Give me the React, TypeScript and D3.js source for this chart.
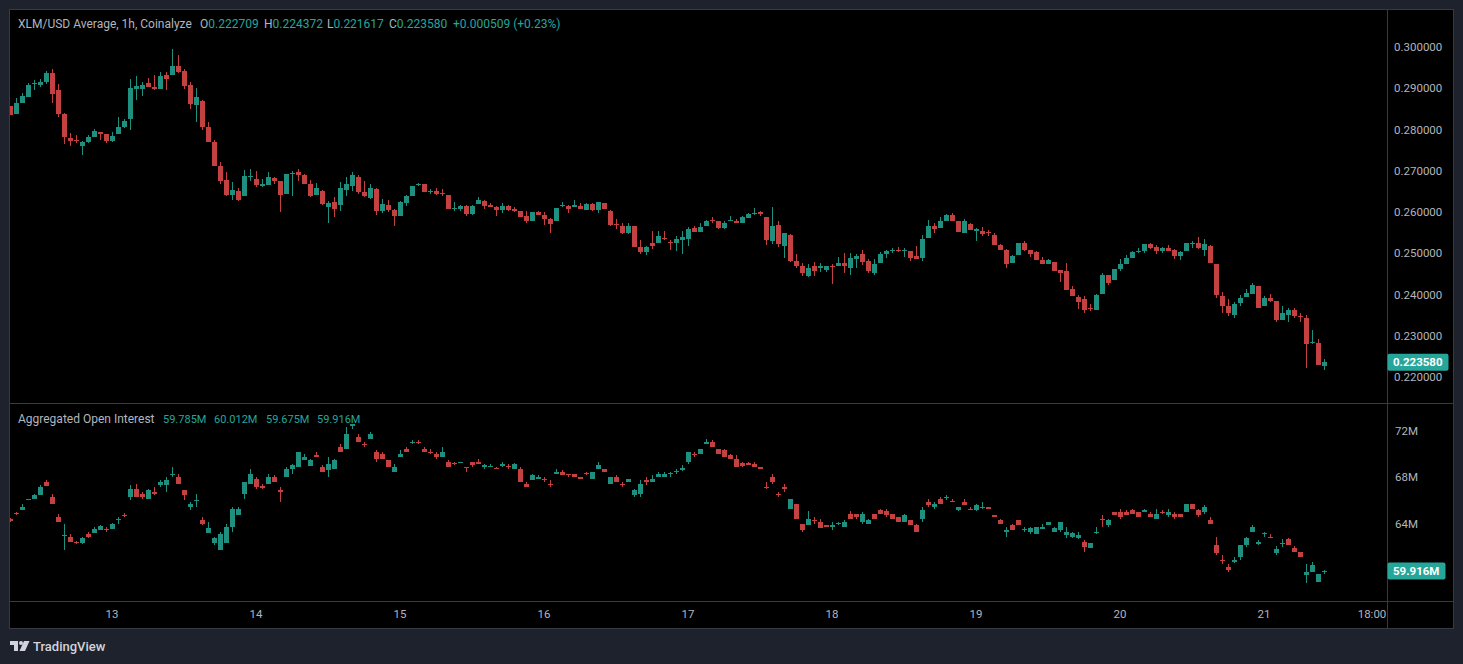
import * as d3 from "d3";
import { useEffect, useRef } from "react";

const width = 1463;
const height = 664;

// hourly candles from the 12th 07:00 up to the 21st 10:00 -> [open, high, low, close]
const firstCandle = new Date(2025, 1, 12, 7);

const xlmCandles: [number, number, number, number][] = [
  [0.2856, 0.2857, 0.2835, 0.2836], [0.2838, 0.2876, 0.2838, 0.2865], [0.2865, 0.2888, 0.2865, 0.2881],
  [0.288, 0.2912, 0.288, 0.2908], [0.291, 0.292, 0.2896, 0.2912], [0.2908, 0.2922, 0.2904, 0.2916],
  [0.2914, 0.2942, 0.2911, 0.2938], [0.2938, 0.2946, 0.2865, 0.2886], [0.2896, 0.2911, 0.2831, 0.2838],
  [0.2838, 0.2839, 0.2765, 0.2781], [0.278, 0.2791, 0.2759, 0.2773], [0.2775, 0.2787, 0.2767, 0.2771],
  [0.276, 0.2772, 0.2739, 0.277], [0.277, 0.2786, 0.2768, 0.2782], [0.2783, 0.2802, 0.2781, 0.2797],
  [0.2793, 0.2795, 0.2775, 0.279], [0.2789, 0.2789, 0.2768, 0.2772], [0.2772, 0.2794, 0.277, 0.2785],
  [0.279, 0.283, 0.2789, 0.2806], [0.2805, 0.2826, 0.2804, 0.2821], [0.2826, 0.2923, 0.2799, 0.29],
  [0.2898, 0.293, 0.2872, 0.2906], [0.2898, 0.2914, 0.2881, 0.2908], [0.2913, 0.2926, 0.2902, 0.2902],
  [0.2903, 0.2932, 0.2896, 0.2898], [0.2898, 0.2939, 0.2898, 0.293], [0.2933, 0.2939, 0.2896, 0.2923],
  [0.2933, 0.2995, 0.2933, 0.2954], [0.2954, 0.2981, 0.2936, 0.294], [0.2942, 0.2947, 0.2898, 0.2906],
  [0.2908, 0.2914, 0.285, 0.2862], [0.286, 0.29, 0.2819, 0.2879], [0.2869, 0.2872, 0.2799, 0.2806],
  [0.2806, 0.2818, 0.2769, 0.2769], [0.2769, 0.2775, 0.2712, 0.2712], [0.2712, 0.2722, 0.2668, 0.2676],
  [0.2678, 0.2697, 0.2638, 0.2642], [0.2642, 0.2673, 0.263, 0.2654], [0.2651, 0.2659, 0.2627, 0.263],
  [0.2638, 0.2702, 0.2638, 0.2688], [0.2686, 0.2705, 0.2674, 0.2688], [0.268, 0.27, 0.266, 0.2666],
  [0.2664, 0.2681, 0.266, 0.2667], [0.2666, 0.2697, 0.2666, 0.2685], [0.2683, 0.2686, 0.2668, 0.2676],
  [0.2676, 0.2676, 0.2601, 0.2642], [0.2644, 0.2693, 0.2644, 0.2693], [0.2692, 0.27, 0.264, 0.2694],
  [0.2697, 0.2705, 0.2676, 0.269], [0.269, 0.2692, 0.2668, 0.2668], [0.2668, 0.2678, 0.2637, 0.264],
  [0.2642, 0.267, 0.2642, 0.2659], [0.2651, 0.2654, 0.2617, 0.262], [0.2613, 0.2627, 0.2574, 0.2622],
  [0.2625, 0.2637, 0.2589, 0.2608], [0.2616, 0.2672, 0.2603, 0.2658], [0.2654, 0.2684, 0.2638, 0.2668],
  [0.2662, 0.2697, 0.2652, 0.269], [0.2685, 0.269, 0.2644, 0.2649], [0.2649, 0.2676, 0.2637, 0.2639],
  [0.2634, 0.2668, 0.2632, 0.2659], [0.2656, 0.2659, 0.2593, 0.2603], [0.2603, 0.2632, 0.2598, 0.262],
  [0.2618, 0.263, 0.2601, 0.2605], [0.2605, 0.2607, 0.2567, 0.2591], [0.2591, 0.2627, 0.2591, 0.2625],
  [0.2622, 0.2642, 0.2615, 0.2639], [0.2639, 0.2663, 0.2639, 0.2663], [0.2667, 0.2671, 0.2664, 0.2668],
  [0.2667, 0.2669, 0.2649, 0.2649], [0.2649, 0.2656, 0.2644, 0.2651], [0.2651, 0.2659, 0.2642, 0.2644],
  [0.2647, 0.2656, 0.2639, 0.2645], [0.2642, 0.2642, 0.2608, 0.2608], [0.2607, 0.2625, 0.2603, 0.2609],
  [0.2608, 0.2618, 0.2603, 0.2615], [0.2615, 0.2618, 0.2591, 0.2596], [0.2596, 0.2618, 0.2593, 0.2615],
  [0.262, 0.2637, 0.262, 0.263], [0.2627, 0.263, 0.2608, 0.2615], [0.2618, 0.2622, 0.2611, 0.2613],
  [0.2613, 0.2615, 0.2591, 0.2605], [0.2605, 0.2622, 0.2598, 0.2615], [0.2615, 0.2618, 0.2603, 0.2605],
  [0.2608, 0.2613, 0.2601, 0.2603], [0.2603, 0.2603, 0.2589, 0.2589], [0.2591, 0.2603, 0.2574, 0.2577],
  [0.2577, 0.2601, 0.2577, 0.2601], [0.2601, 0.2603, 0.2593, 0.2593], [0.2593, 0.2601, 0.2569, 0.2583],
  [0.2583, 0.2586, 0.255, 0.2571], [0.2579, 0.261, 0.2577, 0.261], [0.2616, 0.2625, 0.2611, 0.2618],
  [0.2615, 0.2618, 0.2598, 0.2608], [0.2613, 0.263, 0.2613, 0.2618], [0.2615, 0.2622, 0.2608, 0.2608],
  [0.2605, 0.2622, 0.2605, 0.262], [0.262, 0.2622, 0.2603, 0.2605], [0.2605, 0.2625, 0.2598, 0.2625],
  [0.2622, 0.2622, 0.2608, 0.2608], [0.2603, 0.2605, 0.2567, 0.2569], [0.2571, 0.2584, 0.256, 0.2569],
  [0.2567, 0.2574, 0.2547, 0.2549], [0.2549, 0.2574, 0.2547, 0.2567], [0.2567, 0.2567, 0.2514, 0.2516],
  [0.2516, 0.2533, 0.2499, 0.2504], [0.2504, 0.2518, 0.2496, 0.2516], [0.2524, 0.2555, 0.2511, 0.2518],
  [0.2524, 0.2555, 0.2524, 0.2541], [0.2538, 0.2555, 0.2533, 0.2536], [0.2528, 0.2531, 0.2509, 0.2524],
  [0.2524, 0.2542, 0.2506, 0.2535], [0.2531, 0.2555, 0.2499, 0.254], [0.2535, 0.2564, 0.2518, 0.256],
  [0.2562, 0.2567, 0.2552, 0.2552], [0.2552, 0.2574, 0.2552, 0.2564], [0.2567, 0.2581, 0.2567, 0.2579],
  [0.2581, 0.2588, 0.2574, 0.2579], [0.2579, 0.2579, 0.2559, 0.2562], [0.2562, 0.2577, 0.2559, 0.2574],
  [0.2579, 0.2591, 0.2579, 0.258], [0.2579, 0.2584, 0.2574, 0.2574], [0.2574, 0.2591, 0.2574, 0.2588],
  [0.2586, 0.2598, 0.2586, 0.2596], [0.2596, 0.261, 0.2593, 0.2597], [0.26, 0.2603, 0.2591, 0.2596],
  [0.2588, 0.2588, 0.2521, 0.2533], [0.253, 0.2613, 0.2523, 0.2567], [0.2569, 0.2577, 0.2516, 0.2523],
  [0.2518, 0.255, 0.2489, 0.255], [0.2545, 0.2547, 0.2479, 0.2482], [0.2482, 0.2499, 0.2465, 0.247],
  [0.247, 0.2477, 0.2446, 0.2453], [0.2446, 0.2475, 0.2443, 0.2465], [0.247, 0.248, 0.2446, 0.2458],
  [0.2465, 0.2477, 0.2455, 0.2468], [0.246, 0.247, 0.2455, 0.2468], [0.2469, 0.2475, 0.2426, 0.2467],
  [0.247, 0.2492, 0.247, 0.2477], [0.2477, 0.2501, 0.2453, 0.2468], [0.2465, 0.2501, 0.2448, 0.2489],
  [0.2487, 0.2497, 0.2465, 0.2494], [0.2499, 0.2509, 0.2472, 0.248], [0.2482, 0.2485, 0.2453, 0.2456],
  [0.2453, 0.2485, 0.2448, 0.2475], [0.2477, 0.2504, 0.2477, 0.2499], [0.2497, 0.2509, 0.2489, 0.2506],
  [0.2507, 0.2513, 0.2501, 0.2509], [0.2509, 0.2516, 0.2504, 0.2505], [0.2506, 0.2513, 0.2492, 0.2509],
  [0.2506, 0.2506, 0.2482, 0.2489], [0.2494, 0.2518, 0.2487, 0.2487], [0.2489, 0.2545, 0.2482, 0.2535],
  [0.2538, 0.2581, 0.2538, 0.2567], [0.2567, 0.2574, 0.255, 0.256], [0.2562, 0.2588, 0.2562, 0.2579],
  [0.2579, 0.2596, 0.2579, 0.2593], [0.2593, 0.2598, 0.2577, 0.2577], [0.2577, 0.2577, 0.2552, 0.2552],
  [0.255, 0.2584, 0.255, 0.2577], [0.2572, 0.2574, 0.2557, 0.2557], [0.2555, 0.2562, 0.2529, 0.2558],
  [0.2555, 0.2564, 0.2542, 0.2547], [0.2552, 0.2557, 0.2542, 0.255], [0.2545, 0.255, 0.2521, 0.2521],
  [0.2521, 0.2523, 0.2509, 0.2509], [0.2509, 0.2511, 0.2465, 0.2475], [0.2477, 0.2496, 0.2477, 0.2494],
  [0.2496, 0.2525, 0.2496, 0.2525], [0.2525, 0.253, 0.2506, 0.2509], [0.2509, 0.2509, 0.2492, 0.2499],
  [0.2502, 0.2506, 0.2484, 0.2484], [0.2484, 0.2492, 0.2475, 0.2475], [0.2475, 0.2487, 0.2475, 0.2484],
  [0.248, 0.248, 0.2458, 0.2458], [0.2459, 0.246, 0.2431, 0.2451], [0.2458, 0.2477, 0.241, 0.2412],
  [0.2414, 0.2421, 0.2397, 0.2397], [0.2395, 0.24, 0.2366, 0.2383], [0.2388, 0.2397, 0.2354, 0.2363],
  [0.2368, 0.2378, 0.2361, 0.2366], [0.2363, 0.2402, 0.2363, 0.24], [0.2402, 0.2453, 0.2402, 0.2448],
  [0.2448, 0.2448, 0.2424, 0.2429], [0.2434, 0.2463, 0.2434, 0.2463], [0.2463, 0.2487, 0.2458, 0.2475],
  [0.2475, 0.2496, 0.2475, 0.2489], [0.2489, 0.2506, 0.2489, 0.2504], [0.2504, 0.2513, 0.2501, 0.2506],
  [0.2506, 0.2523, 0.2501, 0.2523], [0.2523, 0.2525, 0.2511, 0.2513], [0.2516, 0.2521, 0.2499, 0.2506],
  [0.2506, 0.2516, 0.2501, 0.2513], [0.2513, 0.2521, 0.2506, 0.2506], [0.2509, 0.2511, 0.2487, 0.2494],
  [0.2494, 0.2506, 0.2484, 0.2504], [0.2506, 0.2525, 0.2506, 0.2525], [0.2524, 0.253, 0.2513, 0.2525],
  [0.2525, 0.254, 0.2511, 0.2513], [0.2509, 0.2535, 0.2494, 0.2523], [0.2518, 0.2521, 0.2477, 0.2477],
  [0.2475, 0.2475, 0.2392, 0.24], [0.2397, 0.2407, 0.2356, 0.2371], [0.2373, 0.239, 0.2349, 0.2354],
  [0.2351, 0.2383, 0.2342, 0.2378], [0.238, 0.24, 0.2371, 0.2392], [0.2395, 0.2414, 0.2395, 0.2404],
  [0.2402, 0.2429, 0.2402, 0.2424], [0.2421, 0.2421, 0.2368, 0.2368], [0.2371, 0.2397, 0.2371, 0.2392],
  [0.2392, 0.2402, 0.2383, 0.2385], [0.2385, 0.2385, 0.2334, 0.2337], [0.2339, 0.2373, 0.2339, 0.2356],
  [0.2351, 0.2368, 0.2334, 0.2363], [0.2363, 0.2368, 0.2342, 0.2347], [0.2349, 0.2356, 0.2334, 0.2347],
  [0.2344, 0.2351, 0.2223, 0.2281], [0.2283, 0.2315, 0.2279, 0.2286], [0.2283, 0.2293, 0.2228, 0.2228],
  [0.222709, 0.224372, 0.221617, 0.22358],
];

// aggregated open interest, millions -> [open, high, low, close]
const oiCandles: [number, number, number, number][] = [
  [64.43, 64.45, 64.15, 64.2], [64.89, 64.98, 64.72, 64.8], [65.15, 65.64, 65.15, 65.46], [66.1, 66.15, 65.98, 66.04],
  [66.1, 66.5, 66.1, 66.41], [66.44, 67.27, 66.44, 67.1], [67.61, 67.7, 67.21, 67.21], [66.24, 66.55, 65.64, 65.72],
  [64.6, 64.86, 64.12, 64.17], [62.97, 64.0, 61.76, 63.02], [62.88, 63.06, 62.45, 62.45], [62.42, 62.48, 62.22, 62.31],
  [62.31, 62.88, 62.25, 62.77], [63.06, 63.23, 62.71, 62.8], [63.14, 63.71, 63.14, 63.54], [63.4, 63.86, 63.4, 63.8],
  [63.51, 63.66, 63.26, 63.43], [63.49, 64.03, 63.49, 63.92], [64.29, 64.55, 63.97, 64.35], [64.75, 64.89, 64.55, 64.66],
  [66.32, 67.27, 65.98, 67.01], [67.01, 67.36, 66.24, 66.24], [66.52, 66.67, 66.12, 66.24], [66.07, 67.01, 66.07, 66.84],
  [66.75, 67.1, 66.41, 66.5], [67.27, 67.7, 67.18, 67.53], [67.27, 67.96, 66.67, 67.7], [68.22, 68.85, 68.04, 68.3],
  [68.04, 68.22, 67.44, 67.44], [66.84, 66.84, 65.98, 66.41], [65.38, 65.81, 65.12, 65.64], [65.92, 66.58, 65.46, 65.98],
  [64.26, 64.6, 63.83, 64.0], [63.14, 64.09, 63.14, 63.57], [62.28, 62.88, 62.11, 62.71], [61.76, 63.31, 61.68, 63.06],
  [62.28, 64.0, 62.28, 63.74], [63.74, 65.46, 63.31, 65.29], [64.69, 65.38, 64.69, 65.29], [66.5, 67.61, 66.07, 67.53],
  [67.36, 68.73, 67.36, 68.3], [67.87, 67.96, 67.01, 67.1], [67.24, 67.44, 66.93, 67.07], [67.44, 68.22, 67.44, 68.04],
  [67.96, 68.13, 67.61, 67.61], [66.84, 67.1, 65.89, 66.75], [67.96, 68.82, 67.96, 68.65], [68.73, 69.16, 68.3, 69.07],
  [68.85, 70.19, 68.85, 70.11], [69.42, 70.02, 69.42, 69.76], [68.93, 69.51, 68.93, 69.42], [69.85, 70.11, 69.68, 69.68],
  [68.9, 68.99, 68.47, 68.47], [68.56, 69.76, 68.04, 69.16], [68.73, 69.59, 68.73, 69.42], [70.62, 70.88, 70.19, 70.19],
  [70.45, 72.34, 70.37, 71.74], [72.43, 72.6, 72.17, 72.52], [71.48, 71.66, 70.97, 70.97], [70.82, 70.97, 70.62, 70.77],
  [71.31, 71.91, 71.23, 71.74], [70.19, 70.28, 69.25, 69.51], [70.02, 70.11, 69.59, 69.59], [69.42, 69.42, 68.9, 68.9],
  [68.47, 69.08, 68.39, 68.9], [69.68, 70.28, 69.68, 70.02], [70.45, 70.54, 70.11, 70.19], [70.91, 71.14, 70.8, 70.99],
  [70.99, 71.14, 70.8, 70.91], [70.45, 70.62, 70.11, 70.11], [70.19, 70.37, 70.02, 70.11], [69.94, 70.19, 69.59, 69.68],
  [69.68, 70.54, 69.68, 70.19], [69.25, 69.42, 68.9, 68.9], [69.19, 69.33, 68.99, 69.11], [69.19, 69.33, 69.19, 69.28],
  [68.82, 68.82, 68.47, 68.76], [69.25, 69.33, 68.9, 68.99], [69.33, 69.51, 69.08, 69.16], [68.9, 69.16, 68.73, 68.99],
  [68.87, 69.08, 68.82, 68.93], [68.76, 68.9, 68.65, 68.7], [68.93, 69.25, 68.85, 69.11], [68.93, 69.08, 68.73, 68.85],
  [68.65, 69.19, 68.65, 69.11], [68.65, 68.9, 67.53, 67.61], [67.44, 67.53, 67.1, 67.1], [67.7, 68.22, 67.7, 68.13],
  [67.79, 68.13, 67.79, 68.04], [67.79, 67.96, 67.61, 67.7], [67.44, 67.7, 67.18, 67.27], [68.22, 68.65, 68.22, 68.47],
  [68.47, 68.56, 68.13, 68.13], [68.22, 68.22, 68.04, 68.13], [68.22, 68.3, 68.04, 68.04], [67.96, 67.96, 67.79, 67.87],
  [68.33, 68.47, 68.13, 68.24], [67.79, 68.47, 67.79, 68.39], [68.73, 69.33, 68.65, 68.99], [68.65, 68.73, 68.39, 68.39],
  [67.36, 67.96, 67.36, 67.96], [67.96, 68.13, 67.61, 67.61], [67.36, 67.53, 67.1, 67.27], [67.53, 67.87, 67.53, 67.79],
  [66.41, 66.93, 66.32, 66.84], [66.5, 67.7, 66.32, 67.36], [67.7, 67.96, 67.27, 67.61], [67.61, 68.13, 67.53, 67.79],
  [68.04, 68.39, 68.04, 68.3], [68.04, 68.39, 68.04, 68.3], [68.24, 68.47, 68.04, 68.33], [68.42, 68.73, 68.22, 68.5],
  [68.59, 68.99, 68.5, 68.76], [69.25, 70.19, 69.16, 70.11], [69.99, 70.11, 69.76, 69.91], [70.02, 70.45, 70.02, 70.45],
  [70.8, 71.23, 70.8, 71.05], [71.05, 71.14, 70.62, 70.62], [70.37, 70.37, 69.94, 69.94], [70.28, 70.37, 69.68, 69.68],
  [69.85, 69.94, 69.59, 69.59], [69.59, 69.85, 68.82, 68.82], [69.19, 69.28, 68.85, 68.93], [69.19, 69.28, 69.02, 69.02],
  [69.16, 69.33, 68.85, 68.85], [68.9, 68.9, 68.65, 68.65], [67.18, 67.53, 67.01, 67.1], [68.04, 68.22, 67.36, 67.53],
  [66.5, 66.75, 66.32, 66.41], [67.18, 67.36, 66.75, 66.93], [65.29, 66.15, 65.29, 66.07], [65.72, 65.72, 64.43, 64.43],
  [64.0, 64.0, 63.31, 63.4], [63.83, 65.04, 63.83, 64.35], [64.29, 64.52, 63.92, 64.2], [64.17, 64.35, 63.57, 63.57],
  [63.83, 63.83, 63.66, 63.66], [63.74, 64.17, 63.4, 63.83], [63.97, 64.17, 63.83, 64.06], [63.74, 64.26, 63.66, 64.17],
  [64.78, 65.04, 64.43, 64.43], [64.78, 64.78, 64.43, 64.52], [64.09, 64.95, 64.0, 64.78], [63.92, 64.43, 63.92, 64.26],
  [64.78, 64.86, 64.35, 64.35], [65.12, 65.29, 64.78, 64.78], [65.04, 65.21, 64.6, 64.69], [64.78, 64.86, 64.43, 64.43],
  [64.52, 64.52, 64.09, 64.09], [64.09, 64.86, 64.09, 64.69], [64.26, 64.26, 63.83, 63.83], [63.83, 63.92, 63.23, 63.23],
  [64.43, 65.38, 64.17, 65.12], [65.81, 66.07, 65.46, 65.55], [65.38, 65.89, 65.29, 65.72], [66.15, 66.24, 65.72, 65.72],
  [66.18, 66.41, 65.98, 66.27], [65.92, 66.07, 65.84, 65.84], [65.12, 65.46, 65.04, 65.38], [65.89, 66.07, 65.55, 65.55],
  [65.29, 65.38, 65.12, 65.21], [65.12, 65.72, 65.04, 65.55], [65.32, 65.81, 65.21, 65.46], [65.46, 65.46, 65.21, 65.21],
  [64.69, 64.69, 64.55, 64.55], [64.26, 64.35, 64.0, 64.0], [63.26, 63.66, 62.88, 63.4], [63.83, 64.0, 63.4, 63.4],
  [64.26, 64.26, 63.83, 63.83], [63.43, 63.66, 63.31, 63.51], [63.23, 63.66, 63.06, 63.57], [63.06, 63.74, 63.06, 63.74],
  [63.49, 63.92, 63.49, 63.74], [63.83, 64.17, 63.83, 64.09], [63.31, 63.66, 63.31, 63.57], [63.4, 64.17, 63.31, 64.09],
  [62.97, 63.66, 62.71, 63.31], [62.8, 63.31, 62.71, 63.14], [62.71, 63.31, 62.63, 62.97], [62.45, 62.54, 61.59, 61.94],
  [61.85, 62.28, 61.85, 62.28], [63.14, 63.66, 63.06, 63.31], [64.43, 64.69, 63.74, 64.26], [63.83, 64.35, 63.74, 64.26],
  [65.03, 65.03, 64.69, 64.69], [65.03, 65.21, 64.43, 64.52], [65.03, 65.12, 64.69, 64.69], [65.12, 65.29, 64.78, 64.78],
  [64.95, 64.95, 64.52, 64.52], [65.03, 65.21, 64.95, 65.12], [64.86, 64.95, 64.6, 64.6], [64.43, 65.21, 64.43, 64.86],
  [65.03, 65.12, 64.86, 64.95], [64.69, 65.21, 64.52, 65.03], [64.78, 64.95, 64.43, 64.52], [64.78, 64.86, 64.52, 64.52],
  [65.03, 65.72, 65.03, 65.64], [65.64, 65.64, 65.29, 65.29], [65.12, 65.21, 64.6, 64.69], [64.95, 65.55, 64.86, 65.38],
  [64.26, 64.52, 63.92, 64.0], [62.11, 62.88, 61.33, 61.42], [60.9, 61.33, 60.48, 60.82], [60.3, 60.48, 59.87, 59.96],
  [60.73, 61.16, 60.56, 60.9], [61.08, 62.11, 60.9, 62.11], [62.11, 62.88, 61.94, 62.71], [63.23, 63.91, 63.23, 63.66],
  [62.2, 62.54, 62.11, 62.45], [63.06, 63.31, 62.88, 63.14], [62.88, 63.06, 62.71, 62.71], [61.42, 62.03, 61.33, 61.77],
  [62.2, 62.63, 61.94, 62.28], [62.63, 62.71, 62.11, 62.11], [61.85, 62.03, 61.51, 61.51], [61.59, 61.59, 61.16, 61.16],
  [59.53, 60.48, 58.84, 59.79], [59.79, 60.65, 59.79, 60.39], [58.93, 59.62, 58.93, 59.62], [59.785, 60.012, 59.675, 59.916],
];

const priceTicks = [0.22, 0.23, 0.24, 0.25, 0.26, 0.27, 0.28, 0.29, 0.3];
const oiTicks = [64, 68, 72];
const dayTicks = [13, 14, 15, 16, 17, 18, 19, 20, 21];
const hourTick = { day: 21, hour: 18 };

const priceTitle = "XLM/USD Average, 1h, Coinalyze";
const priceLegendKeys = ["O", "H", "L", "C"];
const priceLegendValues = ["0.222709", "0.224372", "0.221617", "0.223580"];
const priceChange = "+0.000509 (+0.23%)";
const oiTitle = "Aggregated Open Interest";
const oiLegendValues = ["59.785M", "60.012M", "59.675M", "59.916M"];

const upColor = "#1f8f80";
const downColor = "#c44141";
const labelColor = "#26a69a";
const textColor = "#b2b5be";
const lineColor = "#363a45";
const font = "Roboto, 'Liberation Sans', sans-serif";

function drawCandles(
  g: d3.Selection<SVGGElement, unknown, null, undefined>,
  data: [number, number, number, number][],
  x: d3.ScaleTime<number, number>,
  y: d3.ScaleLinear<number, number>
) {
  const rows = g
    .selectAll("g.candle")
    .data(data)
    .enter()
    .append("g")
    .classed("candle", true)
    .attr("fill", (d) => (d[3] >= d[0] ? upColor : downColor));

  const cx = (i: number) => Math.round(x(d3.timeHour.offset(firstCandle, i)));

  // wick
  rows
    .append("rect")
    .attr("x", (d, i) => cx(i))
    .attr("width", 1)
    .attr("y", (d) => y(d[1]))
    .attr("height", (d) => Math.max(1, y(d[2]) - y(d[1])));

  // body
  rows
    .append("rect")
    .attr("x", (d, i) => cx(i) - 2)
    .attr("width", 5)
    .attr("y", (d) => y(Math.max(d[0], d[3])))
    .attr("height", (d) => Math.max(1, Math.abs(y(d[0]) - y(d[3]))));
}

function createChart(node: SVGSVGElement) {
  const svg = d3.select(node);
  svg.selectAll("*").remove();

  const left = 10;
  const right = 1453;
  const axisX = 1387;
  const top = 10;
  const split = 403;
  const timeTop = 601;
  const bottom = 628;

  svg.append("rect").attr("width", width).attr("height", height).attr("fill", "#1e222d");
  svg
    .append("rect")
    .attr("x", left)
    .attr("y", top)
    .attr("width", right - left)
    .attr("height", bottom - top)
    .attr("fill", "#000");

  const lastTime = d3.timeHour.offset(firstCandle, xlmCandles.length - 1);
  const x = d3.scaleTime().domain([firstCandle, lastTime]).range([10, 10 + 6 * (xlmCandles.length - 1)]);
  const yPrice = d3.scaleLinear().domain([0.22, 0.3]).range([377, 47]);
  const yOi = d3.scaleLinear().domain([60, 72]).range([570, 430.5]);

  const defs = svg.append("defs");
  defs
    .append("clipPath")
    .attr("id", "clip-price")
    .append("rect")
    .attr("x", left)
    .attr("y", top)
    .attr("width", axisX - left)
    .attr("height", split - top);
  defs
    .append("clipPath")
    .attr("id", "clip-oi")
    .append("rect")
    .attr("x", left)
    .attr("y", split)
    .attr("width", axisX - left)
    .attr("height", timeTop - split);

  const priceG = svg.append("g").attr("clip-path", "url(#clip-price)").attr("shape-rendering", "crispEdges");
  drawCandles(priceG, xlmCandles, x, yPrice);
  const oiG = svg.append("g").attr("clip-path", "url(#clip-oi)").attr("shape-rendering", "crispEdges");
  drawCandles(oiG, oiCandles, x, yOi);

  // frame lines
  const lines = svg.append("g").attr("stroke", lineColor).attr("stroke-width", 1).attr("shape-rendering", "crispEdges");
  lines.append("rect").attr("x", left - 0.5).attr("y", top - 0.5).attr("width", right - left + 1).attr("height", bottom - top + 1).attr("fill", "none");
  lines.append("line").attr("x1", left).attr("x2", right).attr("y1", split + 0.5).attr("y2", split + 0.5);
  lines.append("line").attr("x1", left).attr("x2", right).attr("y1", timeTop + 0.5).attr("y2", timeTop + 0.5);
  lines.append("line").attr("x1", axisX + 0.5).attr("x2", axisX + 0.5).attr("y1", top).attr("y2", bottom);

  // right price axis
  const axisText = svg.append("g").style("font-family", font).style("font-size", "11.5px").attr("fill", textColor);
  axisText
    .selectAll("text.price")
    .data(priceTicks)
    .enter()
    .append("text")
    .attr("x", 1394)
    .attr("y", (d) => yPrice(d))
    .attr("dy", "0.36em")
    .text((d) => d.toFixed(6));
  axisText
    .selectAll("text.oi")
    .data(oiTicks)
    .enter()
    .append("text")
    .attr("x", 1395)
    .attr("y", (d) => yOi(d))
    .attr("dy", "0.36em")
    .text((d) => d + "M");

  // time axis
  const timeTicks = dayTicks
    .map((d) => new Date(firstCandle.getFullYear(), firstCandle.getMonth(), d))
    .concat([new Date(firstCandle.getFullYear(), firstCandle.getMonth(), hourTick.day, hourTick.hour)]);
  axisText
    .selectAll("text.time")
    .data(timeTicks)
    .enter()
    .append("text")
    .attr("x", (d) => x(d))
    .attr("y", 614)
    .attr("dy", "0.36em")
    .attr("text-anchor", "middle")
    .text((d) => (d.getHours() === 0 ? d3.timeFormat("%-d")(d) : d3.timeFormat("%H:%M")(d)));

  // last value labels
  const last = xlmCandles[xlmCandles.length - 1];
  const lastOi = oiCandles[oiCandles.length - 1];
  const tags = [
    { y: yPrice(last[3]), w: 61, text: last[3].toFixed(6) },
    { y: yOi(lastOi[3]), w: 58, text: lastOi[3].toFixed(3) + "M" },
  ];
  const tag = svg.selectAll("g.tag").data(tags).enter().append("g").classed("tag", true);
  tag
    .append("rect")
    .attr("x", axisX + 0.5)
    .attr("y", (d) => d.y - 8.5)
    .attr("width", (d) => d.w)
    .attr("height", 17)
    .attr("rx", 2)
    .attr("fill", labelColor);
  tag
    .append("text")
    .attr("x", axisX + 6)
    .attr("y", (d) => d.y)
    .attr("dy", "0.36em")
    .attr("fill", "#fff")
    .style("font-family", font)
    .style("font-size", "11.5px")
    .style("font-weight", "bold")
    .text((d) => d.text);

  // legends
  const legend = svg.append("g").style("font-family", font).style("font-size", "12px");
  legend.append("text").attr("x", 18).attr("y", 28).attr("fill", textColor).text(priceTitle);
  const keyX = [200, 264, 327, 389];
  priceLegendKeys.forEach((k, i) => {
    const t = legend.append("text").attr("x", keyX[i]).attr("y", 28);
    t.append("tspan").attr("fill", textColor).text(k);
    t.append("tspan").attr("fill", labelColor).text(priceLegendValues[i]);
  });
  legend.append("text").attr("x", 453).attr("y", 28).attr("fill", labelColor).text(priceChange);

  legend.append("text").attr("x", 18).attr("y", 423).attr("fill", textColor).text(oiTitle);
  const oiX = [163, 214, 266, 317];
  oiLegendValues.forEach((v, i) => {
    legend
      .append("text")
      .attr("x", oiX[i])
      .attr("y", 423)
      .attr("fill", labelColor)
      .style("font-size", "11px")
      .text(v);
  });

  // TradingView mark
  const logo = svg.append("g").attr("fill", "#d1d4dc");
  logo.append("path").attr("d", "M10,641 H18 V651 H14 V645 H10 Z");
  logo.append("circle").attr("cx", 21).attr("cy", 643).attr("r", 2);
  logo.append("path").attr("d", "M24,641 H29.5 L25,651 H19.5 Z");
  logo
    .append("text")
    .attr("x", 33)
    .attr("y", 651)
    .style("font-family", font)
    .style("font-size", "13px")
    .style("font-weight", 500)
    .text("TradingView");
}

export default function App() {
  const ref = useRef<SVGSVGElement>(null);
  useEffect(() => {
    document.body.style.margin = "0";
    document.body.style.background = "#1e222d";
    if (ref.current) createChart(ref.current);
  }, []);
  return <svg ref={ref} width={width} height={height} style={{ display: "block" }}></svg>;
}
